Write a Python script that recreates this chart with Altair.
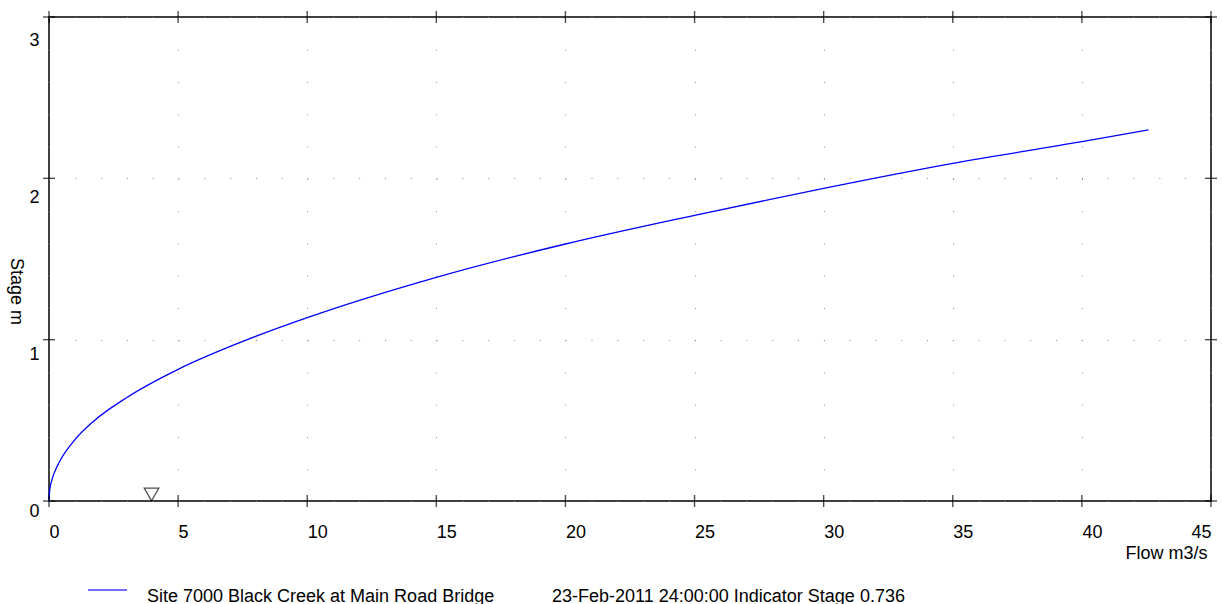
import altair as alt
import pandas as pd

# Rating curve: stage (m) against flow (m3/s)
flow = [0, 0.03, 0.12, 0.3, 0.5, 0.95, 1.73, 3.02, 5.0, 7.41, 10.0, 15.0,
        20.0, 25.0, 30.0, 35.0, 40.0, 42.58]
stage = [0, 0.07, 0.135, 0.21, 0.27, 0.37, 0.495, 0.642, 0.816, 0.983, 1.136,
         1.386, 1.593, 1.771, 1.938, 2.093, 2.227, 2.30]

# Indicator marker on the flow axis
indicator_flow = [3.97]
indicator_stage = 0.736

x_ticks = [0, 5, 10, 15, 20, 25, 30, 35, 40, 45]
y_ticks = [0, 1, 2, 3]

series_name = "Site 7000 Black Creek at Main Road Bridge"
indicator_text = f"23-Feb-2011 24:00:00 Indicator Stage {indicator_stage}"

FONT = "Liberation Sans"
W, H = 1162, 484

curve_df = pd.DataFrame({"flow": flow, "stage": stage})

x_scale = alt.Scale(domain=[0, 45], nice=False, zero=False)
y_scale = alt.Scale(domain=[0, 3], nice=False, zero=False)

x_axis = alt.Axis(
    title="Flow m3/s", values=x_ticks, format="d",
    domain=False, ticks=True, tickSize=0,
    labelFont=FONT, labelFontSize=18, labelColor="black",
    labelAlign={"expr": "datum.value >= 45 ? 'right' : 'left'"},
    labelBaseline="alphabetic", labelPadding=36,
    grid=True, gridColor="#8a8a8a", gridWidth=1, gridDash=[1, 31.27],
    titleFont=FONT, titleFontSize=18, titleFontWeight="normal",
    titleColor="black", titleAlign="right", titleBaseline="alphabetic",
    titleX=1158, titleY=57,
)

y_axis = alt.Axis(
    title="Stage m", values=y_ticks, format="d",
    domain=False, ticks=True, tickSize=0,
    labelFont=FONT, labelFontSize=18, labelColor="black",
    labelAlign="right", labelBaseline="alphabetic", labelPadding=10,
    labelOffset={"expr": "15 + 4.5 * datum.value"},
    grid=True, gridColor="#8a8a8a", gridWidth=1, gridDash=[1, 24.81],
    titleFont=FONT, titleFontSize=18, titleFontWeight="normal",
    titleColor="black", titleAngle=90, titleAlign="center",
    titleBaseline="middle", titleX=-34, titleY=274,
)

curve = alt.Chart(curve_df).mark_line(
    color="#0000ff", strokeWidth=1.3, interpolate="monotone"
).encode(
    x=alt.X("flow:Q", scale=x_scale, axis=x_axis),
    y=alt.Y("stage:Q", scale=y_scale, axis=y_axis),
)

marker = alt.Chart(pd.DataFrame({"flow": indicator_flow, "stage": [0]})).mark_point(
    shape="triangle-down", size=215, filled=False, stroke="black",
    strokeWidth=1.2, yOffset=-6.5,
).encode(
    x=alt.X("flow:Q", scale=x_scale),
    y=alt.Y("stage:Q", scale=y_scale),
)

# Crossing ticks on all four sides of the frame
xt_df = pd.DataFrame({
    "flow": x_ticks * 2,
    "stage": [0] * len(x_ticks) + [3] * len(x_ticks),
})
yt_df = pd.DataFrame({
    "flow": [0] * len(y_ticks) + [45] * len(y_ticks),
    "stage": y_ticks * 2,
})
x_tick_marks = alt.Chart(xt_df).mark_tick(
    orient="vertical", size=12, thickness=1.4, color="black"
).encode(x=alt.X("flow:Q", scale=x_scale), y=alt.Y("stage:Q", scale=y_scale))
y_tick_marks = alt.Chart(yt_df).mark_tick(
    orient="horizontal", size=12, thickness=1.4, color="black"
).encode(x=alt.X("flow:Q", scale=x_scale), y=alt.Y("stage:Q", scale=y_scale))

# Legend row beneath the plot
legend_line = alt.Chart(pd.DataFrame({"k": [0]})).mark_rule(
    color="#6e6eff", strokeWidth=2
).encode(x=alt.value(39), x2=alt.value(78), y=alt.value(573))

legend_df = pd.DataFrame({"label": [series_name, indicator_text], "px": [98, 503]})
legend_text = alt.Chart(legend_df).mark_text(
    font=FONT, fontSize=18, color="black", align="left", baseline="alphabetic"
).encode(x=alt.X("px:Q", scale=None), y=alt.value(584.5), text="label:N")

chart = alt.layer(
    curve, marker, x_tick_marks, y_tick_marks, legend_line, legend_text
).properties(
    width=W, height=H,
    autosize=alt.AutoSizeParams(type="none"),
    padding={"left": 49, "top": 17, "right": 11, "bottom": 103},
    background="white",
).configure_view(stroke="black", strokeWidth=1.5)

chart.save("out.html", embed_options={"renderer": "svg", "actions": False})
